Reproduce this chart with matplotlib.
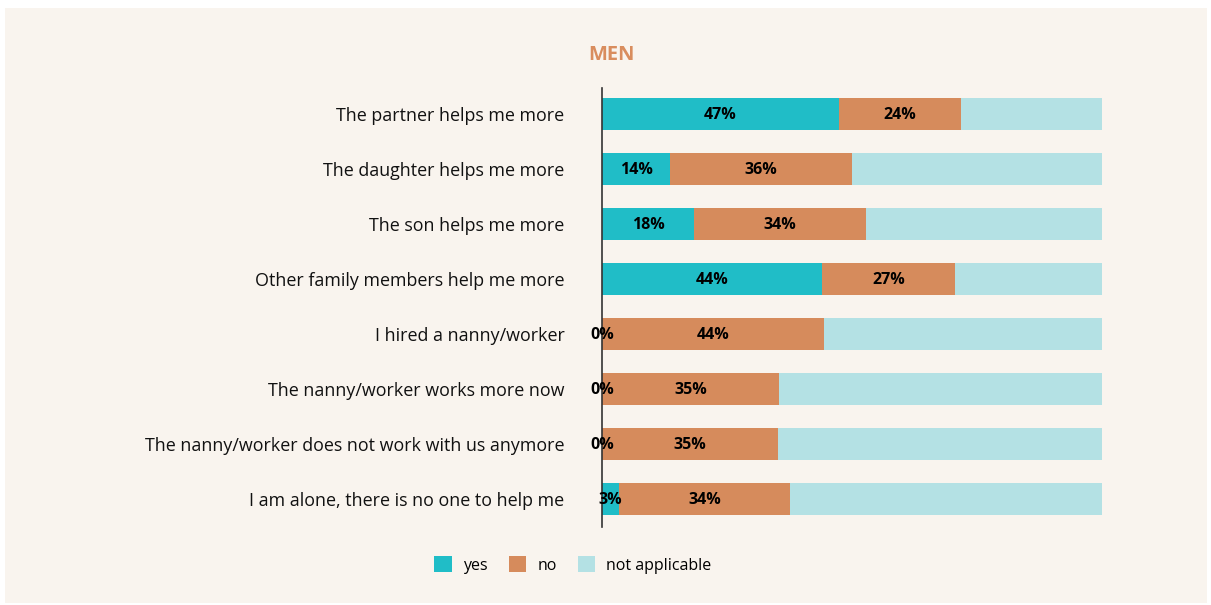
import matplotlib.pyplot as plt
from matplotlib.patches import Rectangle

categories = [
    'The partner helps me more',
    'The daughter helps me more',
    'The son helps me more',
    'Other family members help me more',
    'I hired a nanny/worker',
    'The nanny/worker works more now',
    'The nanny/worker does not work with us anymore',
    'I am alone, there is no one to help me',
]
yes_vals = [47.4, 13.6, 18.4, 44.0, 0.0, 0.0, 0.0, 3.4]
no_vals = [24.4, 36.4, 34.4, 26.6, 44.4, 35.4, 35.2, 34.2]
na_vals = [100 - y - n for y, n in zip(yes_vals, no_vals)]

c_yes = '#20bdc7'
c_no = '#d68b5c'
c_na = '#b4e1e4'
bg = '#f9f4ee'

plt.rcParams['font.family'] = ['Open Sans', 'DejaVu Sans']

fig = plt.figure(figsize=(12.11, 6.05), dpi=100)
fig.patch.set_facecolor('white')
fig.patches.append(Rectangle((5 / 1211, 1 - 603 / 605), 1202 / 1211, 595 / 605,
                             transform=fig.transFigure, facecolor=bg,
                             edgecolor='none', zorder=-10))

ax = fig.add_axes([602 / 1211, 1 - 527 / 605, 500 / 1211, 439 / 605])
ax.set_facecolor('none')
ax.set_zorder(5)

ypos = list(range(len(categories)))
h = 0.58
b1 = ax.barh(ypos, yes_vals, height=h, color=c_yes, label='yes')
b2 = ax.barh(ypos, no_vals, height=h, left=yes_vals, color=c_no, label='no')
left2 = [y + n for y, n in zip(yes_vals, no_vals)]
b3 = ax.barh(ypos, na_vals, height=h, left=left2, color=c_na, label='not applicable')

for i in ypos:
    ax.text(yes_vals[i] / 2, i + 0.02, f'{round(yes_vals[i])}%', ha='center', va='center',
            fontsize=11.5, fontweight='bold', color='black')
    ax.text(yes_vals[i] + no_vals[i] / 2, i + 0.02, f'{round(no_vals[i])}%', ha='center',
            va='center', fontsize=11.5, fontweight='bold', color='black')

ax.set_xlim(0, 100)
ax.set_ylim(7.51, -0.47)
ax.set_yticks(ypos)
ax.set_yticklabels(categories, fontsize=12.9, color='#111111')
ax.tick_params(axis='y', length=0, pad=27)
ax.set_xticks([])
for s in ['top', 'right', 'bottom']:
    ax.spines[s].set_visible(False)
ax.spines['left'].set_color('#333333')
ax.spines['left'].set_linewidth(1.2)

fig.text(611 / 1211, 1 - 55 / 605, 'MEN', ha='center', va='center',
         fontsize=14.5, fontweight='bold', color='#d98d5e')

fig.legend(handles=[b1, b2, b3], loc='center', bbox_to_anchor=(573 / 1211, 1 - 565 / 605),
           ncol=3, frameon=False, fontsize=11.5, handlelength=1.1, handleheight=1.1,
           handletextpad=0.7, columnspacing=1.3)

fig.savefig('out.png', dpi=100, facecolor=fig.get_facecolor())
